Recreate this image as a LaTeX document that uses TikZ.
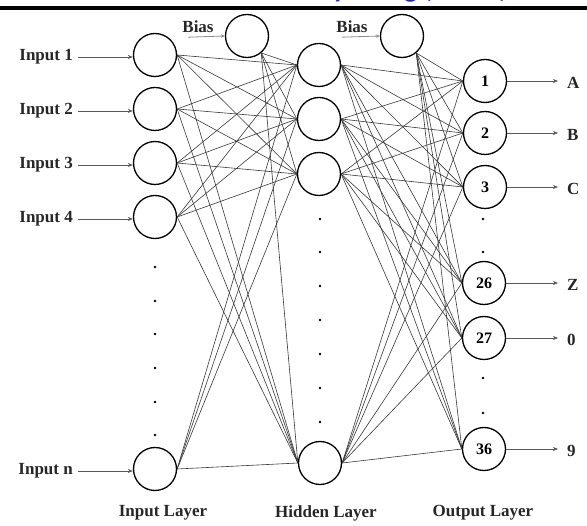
\documentclass[tikz,border=0pt]{standalone}
\usepackage{fontspec}
\setmainfont{Liberation Serif}
\newfontfamily\headfont{Carlito}
\usetikzlibrary{arrows.meta,calc}

\begin{document}
\begin{tikzpicture}[x=1pt,y=-1pt,
  neuron/.style={circle,draw=black,line width=1.3pt,minimum size=43pt,inner sep=0pt},
  lbl/.style={font=\fontsize{17}{20}\selectfont\bfseries,text=black!85,inner sep=0pt},
  num/.style={font=\fontsize{16}{18}\selectfont\bfseries},
  link/.style={draw=black!78,line width=0.6pt},
  inarrow/.style={draw=black!65,line width=0.6pt,-{Stealth[length=5pt,width=4pt]}},
  biasarrow/.style={draw=black!45,line width=0.8pt,-{Stealth[length=4pt,width=3.5pt]}},
  dotmark/.style={circle,fill=black,inner sep=0pt,minimum size=2.8pt}]

\useasboundingbox (0,0) rectangle (587,526);

% page header: title running above the page edge, and the rule
\node[anchor=base west,inner sep=0pt,text=blue!55!black!85,
      font=\headfont\fontsize{28}{30}\selectfont\bfseries] (title) at (318,-2) {by Using (CCNN) Model};
\fill[black] (0,6) rectangle (587,10.5);

% input layer
\node[neuron] (i1) at (155,55) {};
\node[neuron] (i2) at (155,109) {};
\node[neuron] (i3) at (155,163) {};
\node[neuron] (i4) at (155,217) {};
\node[neuron] (in) at (155,469) {};

% bias units
\node[neuron] (b1) at (247,36) {};
\node[neuron] (b2) at (402,36) {};
\node[lbl] (bl1) at (198,27) {Bias};
\node[lbl] (bl2) at (352,27) {Bias};

% hidden layer
\node[neuron] (h1) at (319,65) {};
\node[neuron] (h2) at (319,119) {};
\node[neuron] (h3) at (319,174) {};
\node[neuron] (hn) at (320,463) {};

% output layer
\node[neuron,num] (o1) at (485,81) {1};
\node[neuron,num] (o2) at (485,133) {2};
\node[neuron,num] (o3) at (485,187) {3};
\node[neuron,num] (o26) at (484,283) {26};
\node[neuron,num] (o27) at (484,338) {27};
\node[neuron,num] (o36) at (484,449) {36};

% input labels
\node[lbl,anchor=east] (l1) at (73,57) {Input 1};
\node[lbl,anchor=east] (l2) at (73,111) {Input 2};
\node[lbl,anchor=east] (l3) at (73,165) {Input 3};
\node[lbl,anchor=east] (l4) at (73,219) {Input 4};
\node[lbl,anchor=east] (ln) at (73,471) {Input n};

% output labels
\node[lbl,anchor=west] (qA) at (567,83) {A};
\node[lbl,anchor=west] (qB) at (567,135) {B};
\node[lbl,anchor=west] (qC) at (567,189) {C};
\node[lbl,anchor=west] (qZ) at (567,285) {Z};
\node[lbl,anchor=west] (q0) at (567,340) {0};
\node[lbl,anchor=west] (q9) at (567,451) {9};

% layer captions
\node[lbl] (capI) at (163,513) {Input Layer};
\node[lbl] (capH) at (326,513) {Hidden Layer};
\node[lbl] (capO) at (483,513) {Output Layer};

% ellipsis dots
\foreach \y [count=\k] in {267,301,334,368,402,435}
  \node[dotmark] (di\k) at (155,\y) {};
\foreach \y [count=\k] in {219,252,286,320,354,388,422}
  \node[dotmark] (dh\k) at (320,\y) {};
\foreach \y [count=\k] in {219,252,378,413}
  \node[dotmark] (do\k) at (483,\y) {};

% weights: input -> hidden
\foreach \a in {i1,i2,i3,i4,in}
  \foreach \b in {h1,h2,h3,hn}
    \draw[link] (\a.east) -- (\b.west);
\foreach \b in {h1,h2,h3,hn}
  \draw[link] (b1.-50) -- (\b.west);

% weights: hidden -> output
\foreach \a in {h1,h2,h3,hn}
  \foreach \b in {o1,o2,o3,o26,o27,o36}
    \draw[link] (\a.east) -- (\b.west);
\foreach \b in {o1,o2,o3,o26,o27,o36}
  \draw[link] (b2.-50) -- (\b.west);

% input arrows
\foreach \a/\b in {l1/i1,l2/i2,l3/i3,l4/i4,ln/in}
  \draw[inarrow,shorten <=5pt] (\a.east) -- (\a.east -| \b.west);

% output arrows
\foreach \a/\b in {o1/qA,o2/qB,o3/qC,o26/qZ,o27/q0,o36/q9}
  \draw[inarrow,shorten >=9pt] (\a.east) -- (\a.east -| \b.west);

% bias arrows
\draw[biasarrow] ($(bl1.south west)+(6,4)$) -- (b1.west);
\draw[biasarrow] ($(bl2.south west)+(6,4)$) -- (b2.west);

\end{tikzpicture}
\end{document}
